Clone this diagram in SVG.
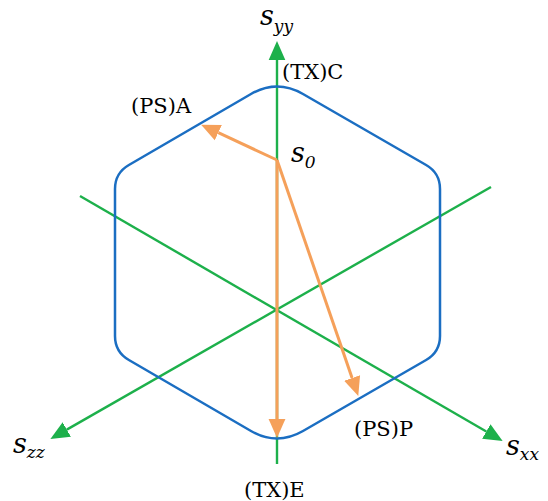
<svg xmlns="http://www.w3.org/2000/svg" width="548" height="501" viewBox="0 0 548 501">
<style>
.ax{stroke:#1DB04B;stroke-width:2.4;fill:none}
.hx{stroke:#1B6EC2;stroke-width:2.5;fill:none;stroke-linejoin:round}
.or{stroke:#F5A05A;stroke-width:3;fill:none}
text{font-family:'DejaVu Serif',serif;fill:#000}
.lb{font-size:21px}
.sv{font-style:italic;font-size:27px}
.sb{font-size:17px}
</style>
<defs>
<marker id="ga" markerUnits="userSpaceOnUse" markerWidth="20" markerHeight="20" viewBox="0 -8 18 16" refX="0" refY="0" orient="auto">
<path d="M0,-7.5 L17,0 L0,7.5 Z" fill="#1DB04B"/>
</marker>
<marker id="oa" markerUnits="userSpaceOnUse" markerWidth="20" markerHeight="20" viewBox="0 -9 19 18" refX="0" refY="0" orient="auto">
<path d="M0,-8 L18,0 L0,8 Z" fill="#F5A05A"/>
</marker>
</defs>
<g id="connectors">
<line class="ax" x1="277" y1="464" x2="277" y2="60" marker-end="url(#ga)"/>
<line class="ax" x1="80" y1="196" x2="486.3" y2="431.5" marker-end="url(#ga)"/>
<line class="ax" x1="491" y1="187" x2="66.8" y2="429.6" marker-end="url(#ga)"/>
</g>
<g id="hexagon">
<path class="hx" d="M251,94 Q277,79 303,94 L426.1,165 Q440,173 440,189 L440,336 Q440,352 426.1,360 L303,431 Q277,446 251,431 L128.9,360 Q115,352 115,336 L115,189 Q115,173 128.9,165 Z"/>
</g>
<g id="paths">
<line class="or" x1="277" y1="160" x2="218.3" y2="132.7" marker-end="url(#oa)"/>
<line class="or" x1="277" y1="160" x2="277" y2="419" marker-end="url(#oa)"/>
<line class="or" x1="277" y1="160" x2="352.1" y2="378" marker-end="url(#oa)"/>
</g>
<g id="label-syy"><text class="sv" x="260" y="25">s<tspan class="sb" dy="7">yy</tspan></text></g>
<g id="label-szz"><text class="sv" x="13" y="453">s<tspan class="sb" dy="5">zz</tspan></text></g>
<g id="label-sxx"><text class="sv" x="506" y="455">s<tspan class="sb" dy="5">xx</tspan></text></g>
<g id="label-s0"><text class="sv" x="291" y="162">s<tspan class="sb" dy="6">0</tspan></text></g>
<g id="label-C"><text class="lb" x="282" y="79">(TX)C</text></g>
<g id="label-A"><text class="lb" x="131" y="113">(PS)A</text></g>
<g id="label-P"><text class="lb" x="354" y="436">(PS)P</text></g>
<g id="label-E"><text class="lb" x="244" y="497">(TX)E</text></g>
</svg>
